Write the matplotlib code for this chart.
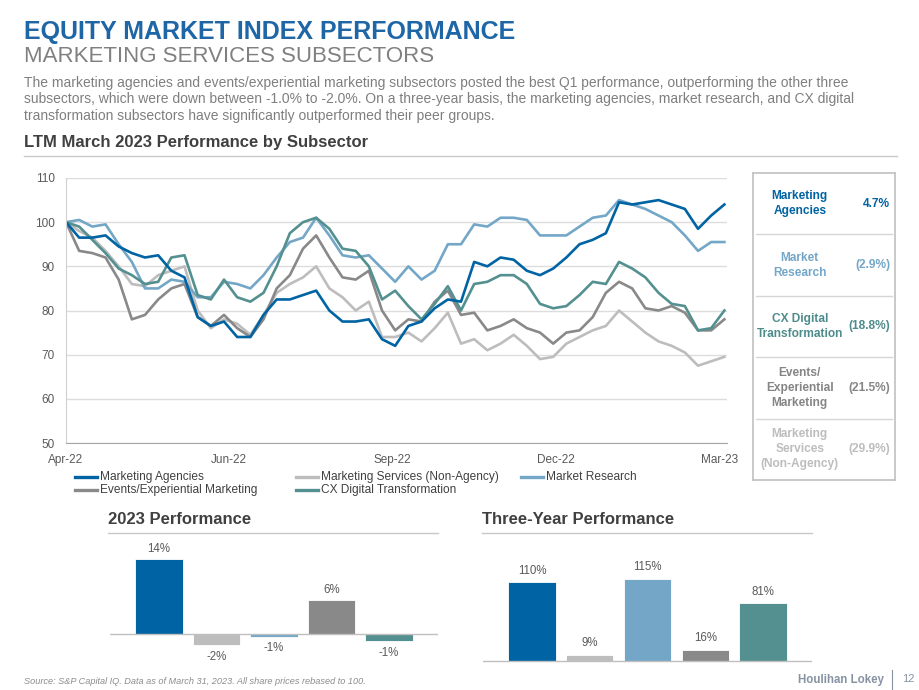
import numpy as np
import matplotlib
matplotlib.use("Agg")
import matplotlib.pyplot as plt
from matplotlib.lines import Line2D

plt.rcParams["font.family"] = ["Liberation Sans", "DejaVu Sans"]

# ---- data -------------------------------------------------------------
# rebased index levels, sampled every 5 trading days (Apr-22 .. Mar-23)
STEP = 5
MARKETING_AGENCIES = [100, 96.5, 96.5, 97, 94.5, 93, 92, 92.5, 89, 87.5, 78.5, 76.5, 77.5, 74, 74,
                      79, 82.5, 82.5, 83.5, 84.5, 80, 77.5, 77.5, 78, 73.5, 72, 76.5, 77.5, 80.5, 82.5,
                      82, 91, 90, 92, 91.5, 89, 88, 89.5, 92, 95, 96, 97.5, 104.5, 104, 104.5,
                      105, 104, 103, 98.5, 101.5, 104]
MARKET_RESEARCH = [100, 100.5, 99, 99.5, 95, 91, 85, 85, 87, 86.5, 83, 83, 86.5, 86, 85,
                   88, 92, 95.5, 96.5, 101, 97, 92.5, 92, 92.5, 89.5, 86.5, 90, 87, 89, 95,
                   95, 99.5, 99, 101, 101, 100.5, 97, 97, 97, 99, 101, 101.5, 105, 104, 103,
                   101.5, 100, 97, 93.5, 95.5, 95.5]
CX_DIGITAL = [100, 99, 96, 93, 89.5, 88, 86, 86.5, 92, 92.5, 83.5, 82.5, 87, 83, 82,
              84, 90, 97.5, 100, 101, 98.5, 94, 93.5, 90, 82.5, 84.5, 81, 78, 81.5, 85.5,
              80, 86, 86.5, 88, 88, 86, 81.5, 80.5, 81, 83.5, 86.5, 86, 91, 89.5, 87.5,
              84, 81.5, 81, 75.5, 76, 80]
EVENTS = [100, 93.5, 93, 92, 87, 78, 79, 82.5, 85, 86, 78.5, 76.5, 79, 76, 74,
          78, 85, 88, 94, 97, 92, 87.5, 87, 89, 80, 75.5, 78, 77.5, 82, 84.5,
          79, 79.5, 75.5, 76.5, 78, 76, 75, 72.5, 75, 75.5, 78.5, 84, 86.5, 85, 80.5,
          80, 81, 79.5, 75.5, 75.5, 78]
MKT_SERVICES = [100, 98, 96.5, 93.5, 90, 86, 85.5, 88, 89, 90, 80, 76, 78, 77, 74.5,
                79, 84, 86, 87.5, 90, 85, 83, 80, 82, 74, 74, 75, 73, 76, 79.5,
                72.5, 73.5, 71, 72.5, 74.5, 72, 69, 69.5, 72.5, 74, 75.5, 76.5, 80, 77.5, 75,
                73, 72, 70.5, 67.5, 68.5, 69.5]

X_TICK_POS = [0, 62, 124, 186, 248]
X_TICK_LABELS = ["Apr-22", "Jun-22", "Sep-22", "Dec-22", "Mar-23"]

PANEL_NAMES = ["Marketing\nAgencies", "Market\nResearch", "CX Digital\nTransformation",
               "Events/\nExperiential\nMarketing", "Marketing\nServices\n(Non-Agency)"]
PANEL_VALUES = ["4.7%", "(2.9%)", "(18.8%)", "(21.5%)", "(29.9%)"]

BAR_2023 = [13.9, -2.1, -0.5, 6.3, -1.3]
BAR_2023_LABELS = ["14%", "-2%", "-1%", "6%", "-1%"]
BAR_3YR = [110, 9, 115, 16, 81]
BAR_3YR_LABELS = ["110%", "9%", "115%", "16%", "81%"]

C_MA = "#0063A3"
C_MR = "#74A7C7"
C_CX = "#54908F"
C_EV = "#898989"
C_MS = "#BDBDBD"
BAR_COLORS = [C_MA, C_MS, C_MR, C_EV, C_CX]

TXT_DARK = "#404040"
TXT_GRAY = "#7F7F7F"
TICK_GRAY = "#595959"
W, H = 920, 690


def fx(px):
    return px / W


def fy(py):
    return 1 - py / H


def hline(fig, x0, x1, y, color="#C8C8C8", lw=1.0):
    fig.add_artist(Line2D([fx(x0), fx(x1)], [fy(y), fy(y)], color=color, lw=lw))


fig = plt.figure(figsize=(W / 100, H / 100), dpi=100)

# ---- header -----------------------------------------------------------
fig.text(fx(24), fy(32), "EQUITY MARKET INDEX PERFORMANCE", fontsize=18, weight="bold",
         color="#1F66A6", va="center")
fig.text(fx(24), fy(56), "MARKETING SERVICES SUBSECTORS", fontsize=16, color="#808080",
         va="center")
para = ("The marketing agencies and events/experiential marketing subsectors posted the best Q1 "
        "performance, outperforming the other three\n"
        "subsectors, which were down between -1.0% to -2.0%. On a three-year basis, the marketing "
        "agencies, market research, and CX digital\n"
        "transformation subsectors have significantly outperformed their peer groups.")
fig.text(fx(24), fy(76), para, fontsize=10, color=TXT_GRAY, va="top", linespacing=1.22)
fig.text(fx(24), fy(143), "LTM March 2023 Performance by Subsector", fontsize=12, weight="bold",
         color=TXT_DARK, va="center")
hline(fig, 24, 897, 156)

# ---- line chart -------------------------------------------------------
ax = fig.add_axes([fx(66), fy(443), fx(727) - fx(66), fy(178) - fy(443)])
x = np.arange(len(MARKETING_AGENCIES)) * STEP
ax.plot(x, MKT_SERVICES, color=C_MS, lw=1.9)
ax.plot(x, EVENTS, color=C_EV, lw=1.9)
ax.plot(x, MARKET_RESEARCH, color=C_MR, lw=1.9)
ax.plot(x, CX_DIGITAL, color=C_CX, lw=1.9)
ax.plot(x, MARKETING_AGENCIES, color=C_MA, lw=1.9)
ax.set_xlim(0, 251)
ax.set_ylim(50, 110)
ax.set_yticks(range(50, 111, 10))
ax.set_xticks(X_TICK_POS)
ax.set_xticklabels(X_TICK_LABELS)
ax.tick_params(length=0, labelsize=8.5, labelcolor=TICK_GRAY)
ax.tick_params(axis="x", pad=8)
ax.tick_params(axis="y", pad=8)
ax.grid(axis="y", color="#DDDDDD", lw=1)
ax.set_axisbelow(True)
for s in ["top", "right"]:
    ax.spines[s].set_visible(False)
ax.spines["left"].set_color("#D0D0D0")
ax.spines["bottom"].set_color("#A6A6A6")

# legend, laid out like the source
legend_items = [("Marketing Agencies", C_MA, 75, 477), ("Marketing Services (Non-Agency)", C_MS, 296, 477),
                ("Market Research", C_MR, 521, 477), ("Events/Experiential Marketing", C_EV, 75, 490),
                ("CX Digital Transformation", C_CX, 296, 490)]
for name, col, lx, ly in legend_items:
    fig.add_artist(Line2D([fx(lx), fx(lx + 22)], [fy(ly), fy(ly)], color=col, lw=2.4))
    fig.text(fx(lx + 25), fy(ly), name, fontsize=8.6, color=TXT_DARK, va="center")

# ---- side panel -------------------------------------------------------
pax = fig.add_axes([fx(753), fy(480), fx(895) - fx(753), fy(173) - fy(480)])
pax.set_xlim(0, 1)
pax.set_ylim(len(PANEL_NAMES), 0)
pax.set_xticks([])
pax.set_yticks([])
for s in pax.spines.values():
    s.set_color("#C0C0C0")
    s.set_linewidth(1.2)
panel_colors = [C_MA, C_MR, "#4E8C8C", "#858585", "#BDBDBD"]
for i, (name, val) in enumerate(zip(PANEL_NAMES, PANEL_VALUES)):
    pax.text(0.33, i + 0.5, name, ha="center", va="center", fontsize=8.6, weight="bold",
             color=panel_colors[i], linespacing=1.35)
    pax.text(0.965, i + 0.5, val, ha="right", va="center", fontsize=8.6, weight="bold",
             color=panel_colors[i])
    if i > 0:
        pax.plot([0.02, 0.98], [i, i], color="#D6D6D6", lw=1)

# ---- 2023 performance bars -------------------------------------------
fig.text(fx(108), fy(519), "2023 Performance", fontsize=12, weight="bold", color=TXT_DARK,
         va="center")
hline(fig, 108, 438, 533)
bax = fig.add_axes([fx(110), fy(665), fx(438) - fx(110), fy(540) - fy(665)])
pos = np.arange(len(BAR_2023))
bax.bar(pos, BAR_2023, width=0.82, color=BAR_COLORS, edgecolor="white", lw=0.6)
bax.axhline(0, color="#BFBFBF", lw=1)
bax.set_xlim(-0.85, 4.85)
bax.set_ylim(-5.74, 17.4)
for p, v, lab in zip(pos, BAR_2023, BAR_2023_LABELS):
    if v >= 0:
        bax.annotate(lab, (p, v), xytext=(0, 3), textcoords="offset points", ha="center",
                     va="bottom", fontsize=8.3, color=TICK_GRAY)
    else:
        bax.annotate(lab, (p, v), xytext=(0, -4), textcoords="offset points", ha="center",
                     va="top", fontsize=8.3, color=TICK_GRAY)
bax.axis("off")

# ---- three-year performance bars -------------------------------------
fig.text(fx(482), fy(519), "Three-Year Performance", fontsize=12, weight="bold", color=TXT_DARK,
         va="center")
hline(fig, 482, 812, 533)
tax = fig.add_axes([fx(483), fy(668), fx(812) - fx(483), fy(545) - fy(668)])
tax.bar(pos, BAR_3YR, width=0.82, color=BAR_COLORS, edgecolor="white", lw=0.6)
tax.axhline(0, color="#BFBFBF", lw=1)
tax.set_xlim(-0.85, 4.85)
tax.set_ylim(-9.8, 162.2)
for p, v, lab in zip(pos, BAR_3YR, BAR_3YR_LABELS):
    tax.annotate(lab, (p, v), xytext=(0, 4), textcoords="offset points", ha="center",
                 va="bottom", fontsize=8.3, color=TICK_GRAY)
tax.axis("off")

# ---- footer -----------------------------------------------------------
fig.text(fx(24), fy(681), "Source: S&P Capital IQ. Data as of March 31, 2023. All share prices "
         "rebased to 100.", fontsize=6.6, style="italic", color="#8C8C8C", va="center")
fig.text(fx(884), fy(680), "Houlihan Lokey", fontsize=8.3, weight="bold", color="#8793A3",
         ha="right", va="center")
fig.add_artist(Line2D([fx(892), fx(892)], [fy(670), fy(689)], color="#8793A3", lw=0.8))
fig.text(fx(902), fy(679), "12", fontsize=8, color="#8793A3", va="center")

fig.savefig("out.png", dpi=100)
